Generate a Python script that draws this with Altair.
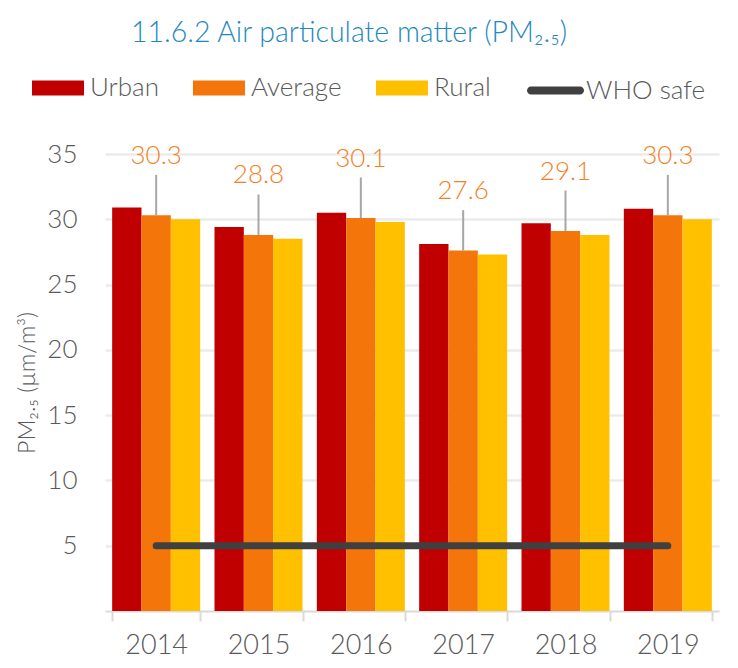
import altair as alt
import pandas as pd

# ---- data ----
years = ["2014", "2015", "2016", "2017", "2018", "2019"]
series = ["Urban", "Average", "Rural"]
urban = [30.9, 29.4, 30.5, 28.1, 29.7, 30.8]
average = [30.3, 28.8, 30.1, 27.6, 29.1, 30.3]
rural = [30.0, 28.5, 29.8, 27.3, 28.8, 30.0]
who_safe = [5, 5, 5, 5, 5, 5]
who_label = "WHO safe"
y_ticks = [5, 10, 15, 20, 25, 30, 35]

# ---- styling ----
colors = ["#C00000", "#F4760B", "#FFC000"]
who_color = "#404040"
label_color = "#F4801F"
text_grey = "#595959"
FONT = "Lato"
W = 300

rows = []
for i, yr in enumerate(years):
    for s, vals in zip(series, [urban, average, rural]):
        rows.append({"Year": yr, "Series": s, "Value": vals[i]})
bars_df = pd.DataFrame(rows)
avg_df = pd.DataFrame({"Year": years, "Value": average})
who_df = pd.DataFrame({"Year": years, "Value": who_safe, "Line": [who_label] * len(years)})

y_scale = alt.Scale(domain=[0, 35], nice=False)
y_axis = alt.Axis(
    values=y_ticks, title="PM₂.₅ (µm/m³)", grid=True, gridColor="#EBEBEB", gridWidth=2.5,
    domain=False, ticks=False, labelPadding=28, labelFontSize=26, labelColor=text_grey,
    labelFont=FONT, labelFontWeight=W, titleFont=FONT, titleFontSize=23, titleColor=text_grey,
    titleFontWeight=W, titlePadding=7,
)
x_axis = alt.Axis(
    title=None, labelAngle=0, domainColor="#D9D9D9", domainWidth=2, tickColor="#D9D9D9",
    tickWidth=2, tickSize=10, tickBand="extent", labelPadding=11, labelFontSize=27,
    labelColor=text_grey, labelFont=FONT, labelFontWeight=W, grid=False,
)
x_scale = alt.Scale(paddingInner=0.14, paddingOuter=0.07)

bars = alt.Chart(bars_df).mark_bar().encode(
    x=alt.X("Year:N", sort=years, scale=x_scale, axis=x_axis),
    xOffset=alt.XOffset("Series:N", sort=series, scale=alt.Scale(paddingInner=0, paddingOuter=0)),
    y=alt.Y("Value:Q", scale=y_scale, axis=y_axis),
    fill=alt.Fill(
        "Series:N", sort=series, scale=alt.Scale(domain=series, range=colors),
        legend=alt.Legend(
            orient="none", legendX=-73, legendY=-92, direction="horizontal", title=None,
            symbolType="M-1,-0.29H1V0.29H-1Z", symbolSize=2704, symbolStrokeWidth=0,
            labelFontSize=26, labelColor=text_grey, labelFont=FONT, labelFontWeight=W,
            labelOffset=6, columnPadding=34, padding=0,
        ),
    ),
)

leaders = alt.Chart(avg_df).transform_calculate(Top="datum.Value + 3.1").mark_rule(
    color="#A6A6A6", strokeWidth=2
).encode(
    x=alt.X("Year:N", sort=years),
    y=alt.Y("Value:Q", scale=y_scale, axis=y_axis),
    y2="Top:Q",
)

labels = alt.Chart(avg_df).transform_calculate(Top="datum.Value + 3.1").mark_text(
    color=label_color, fontSize=26, font=FONT, fontWeight=W, baseline="middle", dy=-19
).encode(
    x=alt.X("Year:N", sort=years),
    y=alt.Y("Top:Q", scale=y_scale, axis=y_axis),
    text=alt.Text("Value:Q", format=".1f"),
)

stadium = "M-0.86,-0.14H0.86A0.14,0.14,0,0,1,0.86,0.14H-0.86A0.14,0.14,0,0,1,-0.86,-0.14Z"
who = alt.Chart(who_df).mark_line(strokeWidth=7, strokeCap="round").encode(
    x=alt.X("Year:N", sort=years),
    y=alt.Y("Value:Q", scale=y_scale, axis=y_axis),
    stroke=alt.Stroke(
        "Line:N", scale=alt.Scale(domain=[who_label], range=[who_color]),
        legend=alt.Legend(
            orient="none", legendX=422, legendY=-92, title=None,
            symbolType=stadium, symbolSize=3249, symbolFillColor=who_color,
            symbolStrokeWidth=0, labelFontSize=26, labelColor=text_grey,
            labelFont=FONT, labelFontWeight=W, labelOffset=2, padding=0,
        ),
    ),
)

chart = alt.layer(bars, leaders, labels, who).properties(
    width=614, height=457,
    title=alt.TitleParams(
        "11.6.2 Air particulate matter (PM₂.₅)", fontSize=28.5, color="#1F88BE", font=FONT,
        fontWeight=W, anchor="middle", dx=-63, offset=15,
    ),
    autosize=alt.AutoSizeParams(type="none"),
    padding={"left": 97, "top": 146, "right": 10, "bottom": 49},
).configure_view(stroke=None).configure_text(font=FONT)

chart.save("out.html", embed_options={"renderer": "svg", "actions": False})
